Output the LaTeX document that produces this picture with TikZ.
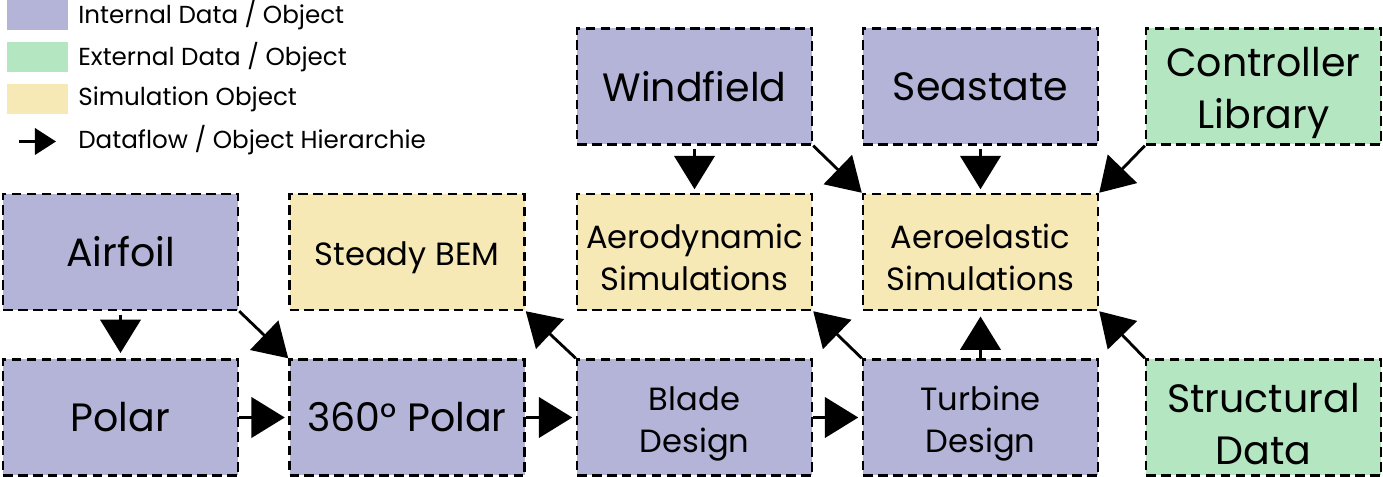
\documentclass[tikz,border=0pt]{standalone}
\usepackage{fontspec}
\setmainfont{Poppins}
\usetikzlibrary{arrows.meta}
\definecolor{intcol}{RGB}{180,180,217}
\definecolor{extcol}{RGB}{179,230,193}
\definecolor{simcol}{RGB}{247,233,182}
\newcommand{\midlift}{\rule{0pt}{20.5pt}}
\newcommand{\biglift}{\rule{0pt}{24pt}}
\tikzset{
  obj/.style={draw=black,dash pattern=on 5.5pt off 3pt,line width=1.4pt,
    minimum width=4.7cm,minimum height=2.32cm,align=center,inner sep=0pt},
  intobj/.style={obj,fill=intcol},
  extobj/.style={obj,fill=extcol},
  simobj/.style={obj,fill=simcol},
  bigtxt/.style={font=\fontsize{22.5}{30}\selectfont},
  midtxt/.style={font=\fontsize{18.3}{24}\selectfont},
  legtxt/.style={font=\fontsize{14}{15}\selectfont,anchor=west,inner sep=0pt},
  swatch/.style={minimum width=1.22cm,minimum height=0.6cm,inner sep=0pt},
  flow/.style={-{Triangle[length=19pt,width=23pt]},line width=1.6pt},
}

\begin{document}
\begin{tikzpicture}
  \useasboundingbox (0,0) rectangle (27.66,-9.54);
  % legend
  \node[swatch,fill=intcol] (swint) at (0.75,-0.3) {};
  \node[swatch,fill=extcol] (swext) at (0.75,-1.14) {};
  \node[swatch,fill=simcol] (swsim) at (0.75,-1.98) {};
  \node[legtxt] (lint) at (1.56,-0.3) {Internal Data / Object};
  \node[legtxt] (lext) at (1.56,-1.14) {External Data / Object};
  \node[legtxt] (lsim) at (1.56,-1.98) {Simulation Object};
  \node[legtxt] (lflow) at (1.56,-2.8) {Dataflow / Object Hierarchie};
  \coordinate (fa) at (0.38,-2.83);
  \coordinate (fb) at (1.12,-2.83);
  \draw[line width=1.6pt,-{Triangle[length=12pt,width=15pt]}] (fa) -- (fb);

  \node[intobj,bigtxt] (airfoil) at (2.41,-5.04) {Airfoil};
  \node[intobj,bigtxt] (polar) at (2.41,-8.35) {Polar};
  \node[simobj,midtxt] (bem) at (8.14,-5.04) {\midlift Steady BEM};
  \node[intobj,bigtxt] (polarfull) at (8.14,-8.35) {360° Polar};
  \node[intobj,bigtxt] (windfield) at (13.89,-1.73) {Windfield};
  \node[simobj,midtxt] (aerodyn) at (13.89,-5.04) {\midlift Aerodynamic\\Simulations};
  \node[intobj,midtxt] (blade) at (13.89,-8.35) {\midlift Blade\\Design};
  \node[intobj,bigtxt] (seastate) at (19.61,-1.73) {Seastate};
  \node[simobj,midtxt] (aeroel) at (19.61,-5.04) {\midlift Aeroelastic\\Simulations};
  \node[intobj,midtxt] (turbine) at (19.61,-8.35) {\midlift Turbine\\Design};
  \node[extobj,bigtxt] (controller) at (25.27,-1.73) {\biglift Controller\\Library};
  \node[extobj,bigtxt] (structural) at (25.27,-8.35) {\biglift Structural\\Data};

  \draw[flow,shorten <=2pt,shorten >=3pt] (airfoil) -- (polar);
  \draw[flow] (airfoil.south east) -- (polarfull.north west);
  \draw[flow,shorten >=2pt] (polar) -- (polarfull);
  \draw[flow,shorten >=2pt] (polarfull) -- (blade);
  \draw[flow,shorten >=2pt] (blade) -- (turbine);
  \draw[flow] (blade.north west) -- (bem.south east);
  \draw[flow] (turbine.north west) -- (aerodyn.south east);
  \draw[flow,shorten >=3pt] (turbine) -- (aeroel);
  \draw[flow] (structural.north west) -- (aeroel.south east);
  \draw[flow,shorten <=2pt,shorten >=2pt] (windfield) -- (aerodyn);
  \draw[flow] (windfield.south east) -- (aeroel.north west);
  \draw[flow,shorten <=2pt,shorten >=2pt] (seastate) -- (aeroel);
  \draw[flow] (controller.south west) -- (aeroel.north east);
\end{tikzpicture}
\end{document}
